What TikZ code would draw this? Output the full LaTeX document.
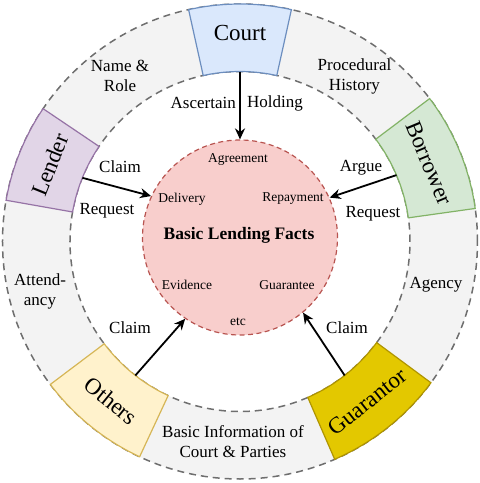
\documentclass[tikz,border=0pt]{standalone}
\usepackage{fontspec}
\setmainfont{Liberation Serif}
\usetikzlibrary{arrows.meta}
\definecolor{ringfill}{HTML}{F3F3F3}
\definecolor{ringline}{HTML}{6E6E6E}
\definecolor{courtF}{HTML}{DAE8FC}\definecolor{courtD}{HTML}{6C8EBF}
\definecolor{lenderF}{HTML}{E1D5E7}\definecolor{lenderD}{HTML}{9673A6}
\definecolor{borrowF}{HTML}{D5E8D4}\definecolor{borrowD}{HTML}{82B366}
\definecolor{othersF}{HTML}{FFF2CC}\definecolor{othersD}{HTML}{D6B656}
\definecolor{guarF}{HTML}{E3C800}\definecolor{guarD}{HTML}{B09500}
\definecolor{factsF}{HTML}{F8CECC}\definecolor{factsD}{HTML}{B85450}
\tikzset{
  ringcircle/.style={draw=ringline, line width=1.5pt, dash pattern=on 7pt off 5pt},
  sectorbox/.style={line width=1.2pt, line join=miter},
  boxtext/.style={inner sep=0pt, font=\fontsize{23}{27}\selectfont},
  ringtext/.style={inner sep=0pt, align=center, font=\fontsize{17}{20}\selectfont},
  arrtext/.style={inner sep=0pt, font=\fontsize{17}{20}\selectfont},
  facttext/.style={inner sep=0pt, font=\fontsize{13.5}{16}\selectfont},
  arr/.style={line width=1.8pt, -{Stealth[length=11pt,width=10pt]}},
}
\newcommand\Ro{237.5}
\newcommand\Ri{170}
\newcommand\Rm{205}
\begin{document}
\begin{tikzpicture}[x=1pt,y=1pt]
\useasboundingbox (-240,-241.5) rectangle (240,241.5);
% gray ring
\fill[ringfill, even odd rule] (0,0) circle[radius=\Ro] (0,0) circle[radius=\Ri];
\draw[ringcircle] (0,0) circle[radius=\Ro];
\draw[ringcircle] (0,0) circle[radius=\Ri];
% sectors
\draw[sectorbox, fill=courtF, draw=courtD] (77.5:\Ro) arc[start angle=77.5,end angle=102.5,radius=\Ro] -- (102.5:\Ri) arc[start angle=102.5,end angle=77.5,radius=\Ri] -- cycle;
\draw[sectorbox, fill=lenderF, draw=lenderD] (146:\Ro) arc[start angle=146,end angle=170,radius=\Ro] -- (170:\Ri) arc[start angle=170,end angle=146,radius=\Ri] -- cycle;
\draw[sectorbox, fill=borrowF, draw=borrowD] (8:\Ro) arc[start angle=8,end angle=37,radius=\Ro] -- (37:\Ri) arc[start angle=37,end angle=8,radius=\Ri] -- cycle;
\draw[sectorbox, fill=othersF, draw=othersD] (217:\Ro) arc[start angle=217,end angle=245,radius=\Ro] -- (245:\Ri) arc[start angle=245,end angle=217,radius=\Ri] -- cycle;
\draw[sectorbox, fill=guarF, draw=guarD] (-66.5:\Ro) arc[start angle=-66.5,end angle=-36.5,radius=\Ro] -- (-36.5:\Ri) arc[start angle=-36.5,end angle=-66.5,radius=\Ri] -- cycle;
% sector labels
\node[boxtext] (court) at (90:209) {Court};
\node[boxtext, rotate=68] (lender) at (158:\Rm) {Lender};
\node[boxtext, rotate=-67.5] (borrower) at (22.5:\Rm) {Borrower};
\node[boxtext, rotate=321] (others) at (231:\Rm) {Others};
\node[boxtext, rotate=38.5] (guarantor) at (-51.5:\Rm) {Guarantor};
% arrow start points on inner edge of sectors
\coordinate (courtIn) at (90:\Ri);
\coordinate (lenderIn) at (158:\Ri);
\coordinate (borrowIn) at (23:\Ri);
\coordinate (othersIn) at (232:\Ri);
\coordinate (guarIn) at (-52:\Ri);
% central circle
\node[circle, minimum size=195pt, inner sep=0pt, fill=factsF, draw=factsD, line width=1.2pt, dash pattern=on 5pt off 3.5pt] (facts) at (0,4) {};
\node[inner sep=0pt, font=\bfseries\fontsize{17.5}{20}\selectfont] (basic) at (-1,6.5) {Basic Lending Facts};
\node[facttext] (agree) at (-2,82) {Agreement};
\node[facttext] (deliv) at (-58,42.5) {Delivery};
\node[facttext] (repay) at (53,42.5) {Repayment};
\node[facttext] (evid) at (-53,-43.5) {Evidence};
\node[facttext] (guarantee) at (47,-43.5) {Guarantee};
\node[facttext] (etc) at (-2,-80.5) {etc};
% arrows
\draw[arr] (courtIn) -- (facts.90);
\draw[arr] (lenderIn) -- (facts.155);
\draw[arr] (borrowIn) -- (facts.24);
\draw[arr] (othersIn) -- (facts.236);
\draw[arr] (guarIn) -- (facts.-50);
% arrow labels
\node[arrtext, anchor=east] (ascertain) at (-4,138.5) {Ascertain};
\node[arrtext, anchor=west] (holding) at (7,138.5) {Holding};
\node[arrtext] (claimL) at (-120,74.5) {Claim};
\node[arrtext] (requestL) at (-133,30.5) {Request};
\node[arrtext] (argue) at (121,73.5) {Argue};
\node[arrtext] (requestB) at (133,27.5) {Request};
\node[arrtext] (claimO) at (-110,-86.5) {Claim};
\node[arrtext] (claimG) at (107,-86.5) {Claim};
% ring labels
\node[ringtext] (namerole) at (-120,166) {Name \&\\Role};
\node[ringtext] (history) at (114.5,165.5) {Procedural\\History};
\node[ringtext] (attend) at (-200,-49.5) {Attend-\\ancy};
\node[ringtext] (agency) at (196,-43.5) {Agency};
\node[ringtext] (basicinfo) at (-7,-200.5) {Basic Information of\\Court \& Parties};
\end{tikzpicture}
\end{document}
